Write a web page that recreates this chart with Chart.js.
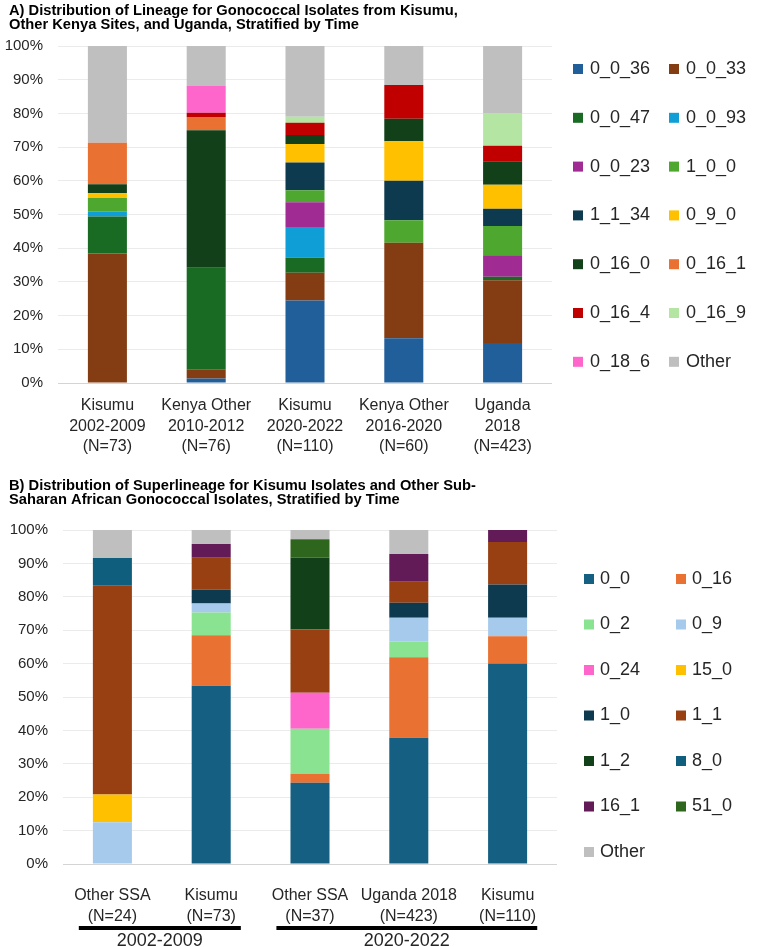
<!DOCTYPE html>
<html>
<head>
<meta charset="utf-8">
<script src="https://cdn.jsdelivr.net/npm/chart.js@4.4.1/dist/chart.umd.min.js"></script>
<style>
  body { margin: 0; background: #fff; }
  canvas { position: absolute; left: 0; }
  #chartA { top: 0; }
  #chartB { top: 470px; }
</style>
</head>
<body>
<canvas id="chartA" width="762" height="470"></canvas>
<canvas id="chartB" width="762" height="477"></canvas>
<script>
// ---- Panel A: lineage share (%) per site / period ----
const lineageSites = [
  ["Kisumu", "2002-2009", "(N=73)"],
  ["Kenya Other", "2010-2012", "(N=76)"],
  ["Kisumu", "2020-2022", "(N=110)"],
  ["Kenya Other", "2016-2020", "(N=60)"],
  ["Uganda", "2018", "(N=423)"]
];
const lineageNames = ["0_0_36", "0_0_33", "0_0_47", "0_0_93", "0_0_23", "1_0_0", "1_1_34",
  "0_9_0", "0_16_0", "0_16_1", "0_16_4", "0_16_9", "0_18_6", "Other"];
const lineage_0_0_36 = [0, 1.3, 24.5, 13.3, 11.9];
const lineage_0_0_33 = [38.4, 2.6, 8.2, 28.3, 18.6];
const lineage_0_0_47 = [11.0, 30.3, 4.5, 0, 1.0];
const lineage_0_0_93 = [1.4, 0, 9.1, 0, 0];
const lineage_0_0_23 = [0, 0, 7.3, 0, 6.4];
const lineage_1_0_0 = [4.1, 0, 3.6, 6.7, 8.7];
const lineage_1_1_34 = [0, 0, 8.2, 11.7, 5.1];
const lineage_0_9_0 = [1.4, 0, 5.5, 11.7, 7.1];
const lineage_0_16_0 = [2.7, 40.8, 2.7, 6.7, 7.0];
const lineage_0_16_1 = [12.3, 3.9, 0, 0, 0];
const lineage_0_16_4 = [0, 1.3, 3.6, 10.0, 4.6];
const lineage_0_16_9 = [0, 0, 1.8, 0, 9.7];
const lineage_0_18_6 = [0, 7.9, 0, 0, 0];
const lineage_other = [28.7, 11.9, 21.0, 11.6, 19.9];
const lineageColors = ["#215F9A", "#843C12", "#196B24", "#0F9ED5", "#A02B93", "#4EA72E", "#0E3A50",
  "#FFC000", "#124019", "#E97132", "#C00000", "#B4E5A2", "#FF66CC", "#BFBFBF"];

// ---- Panel B: superlineage share (%) ----
const superSites = [
  ["Other SSA", "(N=24)"],
  ["Kisumu", "(N=73)"],
  ["Other SSA", "(N=37)"],
  ["Uganda 2018", "(N=423)"],
  ["Kisumu", "(N=110)"]
];
const superNames = ["0_0", "0_16", "0_2", "0_9", "0_24", "15_0", "1_0", "1_1", "1_2", "8_0",
  "16_1", "51_0", "Other"];
const super_0_0 = [0, 53.4, 24.3, 37.8, 60.0];
const super_0_16 = [0, 15.1, 2.7, 24.1, 8.2];
const super_0_2 = [0, 6.8, 13.5, 4.7, 0];
const super_0_9 = [12.5, 2.7, 0, 7.1, 5.5];
const super_0_24 = [0, 0, 10.8, 0, 0];
const super_15_0 = [8.3, 0, 0, 0, 0];
const super_1_0 = [0, 4.1, 0, 4.5, 10.0];
const super_1_1 = [62.5, 9.6, 18.9, 6.3, 12.7];
const super_1_2 = [0, 0, 21.6, 0, 0];
const super_8_0 = [8.3, 0, 0, 0, 0];
const super_16_1 = [0, 4.1, 0, 8.3, 3.6];
const super_51_0 = [0, 0, 5.4, 0, 0];
const super_other = [8.4, 4.2, 2.8, 7.2, 0];
const superColors = ["#156082", "#E97132", "#8AE391", "#A6CAEC", "#FF66CC", "#FFC000", "#0E3A50",
  "#984012", "#124019", "#0F5E7E", "#621B56", "#2F661E", "#BFBFBF"];
const periodNames = ["2002-2009", "2020-2022"];
const periodFirst = [0, 2];
const periodLast = [1, 4];

const FONT = "'Liberation Sans', Arial, sans-serif";
const TEXT = "#262626";

// titles, 2-column legend and period brackets
const panelText = {
  id: "panelText",
  afterDraw(chart, args, opts) {
    const ctx = chart.ctx;
    ctx.save();
    ctx.fillStyle = "#000";
    ctx.font = "bold 14.7px " + FONT;
    ctx.textBaseline = "alphabetic";
    ctx.textAlign = "left";
    opts.title.forEach((line, i) => ctx.fillText(line, 9, opts.titleY + i * 14));

    ctx.font = "18px " + FONT;
    ctx.textBaseline = "middle";
    chart.data.datasets.forEach((ds, i) => {
      const x = opts.legendX + (i % 2) * opts.legendColGap;
      const y = opts.legendY + Math.floor(i / 2) * opts.legendRowGap;
      ctx.fillStyle = ds.backgroundColor;
      ctx.fillRect(x, y - 5, 10, 10);
      ctx.fillStyle = TEXT;
      ctx.fillText(ds.label, x + opts.legendTextGap, y);
    });

    if (opts.groups) {
      const xs = chart.scales.x;
      const step = xs.getPixelForValue(1) - xs.getPixelForValue(0);
      ctx.strokeStyle = "#000";
      ctx.lineWidth = 4;
      ctx.font = "18px " + FONT;
      ctx.textAlign = "center";
      ctx.textBaseline = "alphabetic";
      opts.groups.names.forEach((name, g) => {
        const x0 = xs.getPixelForValue(opts.groups.first[g]) - 0.34 * step;
        const x1 = xs.getPixelForValue(opts.groups.last[g]) + 0.3 * step;
        ctx.beginPath();
        ctx.moveTo(x0, opts.groups.lineY);
        ctx.lineTo(x1, opts.groups.lineY);
        ctx.stroke();
        ctx.fillStyle = TEXT;
        ctx.fillText(name, (x0 + x1) / 2, opts.groups.textY);
      });
    }
    ctx.restore();
  }
};

function makeOptions(yWidth, xHeight, pad, tickPad, textOpts) {
  return {
    responsive: false,
    animation: false,
    layout: { padding: pad },
    datasets: { bar: { categoryPercentage: 1, barPercentage: 0.395, borderWidth: 0 } },
    plugins: { legend: { display: false }, tooltip: { enabled: false }, panelText: textOpts },
    scales: {
      x: {
        stacked: true,
        grid: { display: false, drawTicks: false },
        border: { display: false },
        ticks: { color: TEXT, font: { family: FONT, size: 16, lineHeight: 1.3 }, padding: tickPad, maxRotation: 0, autoSkip: false },
        afterFit: s => { s.height = xHeight; }
      },
      y: {
        stacked: true,
        min: 0,
        max: 100,
        grid: { drawTicks: false, color: c => c.tick.value === 0 ? "#d4d4d4" : "#ebebeb", lineWidth: 1 },
        border: { display: false },
        ticks: { stepSize: 10, color: TEXT, font: { family: FONT, size: 15 }, padding: 15, callback: v => v + "%" },
        afterFit: s => { s.width = yWidth; }
      }
    }
  };
}

const lineageSeries = [lineage_0_0_36, lineage_0_0_33, lineage_0_0_47, lineage_0_0_93, lineage_0_0_23,
  lineage_1_0_0, lineage_1_1_34, lineage_0_9_0, lineage_0_16_0, lineage_0_16_1, lineage_0_16_4,
  lineage_0_16_9, lineage_0_18_6, lineage_other];

new Chart(document.getElementById("chartA"), {
  type: "bar",
  data: {
    labels: lineageSites,
    datasets: lineageSeries.map((vals, i) => ({ label: lineageNames[i], data: vals, backgroundColor: lineageColors[i] }))
  },
  options: makeOptions(58, 87, { top: 46, right: 210, bottom: 0, left: 0 }, 12, {
    title: ["A) Distribution of Lineage for Gonococcal Isolates from Kisumu,",
      "Other Kenya Sites, and Uganda, Stratified by Time"],
    titleY: 15,
    legendX: 573, legendY: 69, legendColGap: 96, legendRowGap: 48.8, legendTextGap: 17
  }),
  plugins: [panelText]
});

const superSeries = [super_0_0, super_0_16, super_0_2, super_0_9, super_0_24, super_15_0, super_1_0,
  super_1_1, super_1_2, super_8_0, super_16_1, super_51_0, super_other];

new Chart(document.getElementById("chartB"), {
  type: "bar",
  data: {
    labels: superSites,
    datasets: superSeries.map((vals, i) => ({ label: superNames[i], data: vals, backgroundColor: superColors[i] }))
  },
  options: makeOptions(63, 83, { top: 60, right: 205, bottom: 0, left: 0 }, 21, {
    title: ["B) Distribution of Superlineage for Kisumu Isolates and Other Sub-",
      "Saharan African Gonococcal Isolates, Stratified by Time"],
    titleY: 20,
    legendX: 584, legendY: 109, legendColGap: 92, legendRowGap: 45.5, legendTextGap: 16,
    groups: { names: periodNames, first: periodFirst, last: periodLast, lineY: 458, textY: 476 }
  }),
  plugins: [panelText]
});
</script>
</body>
</html>
